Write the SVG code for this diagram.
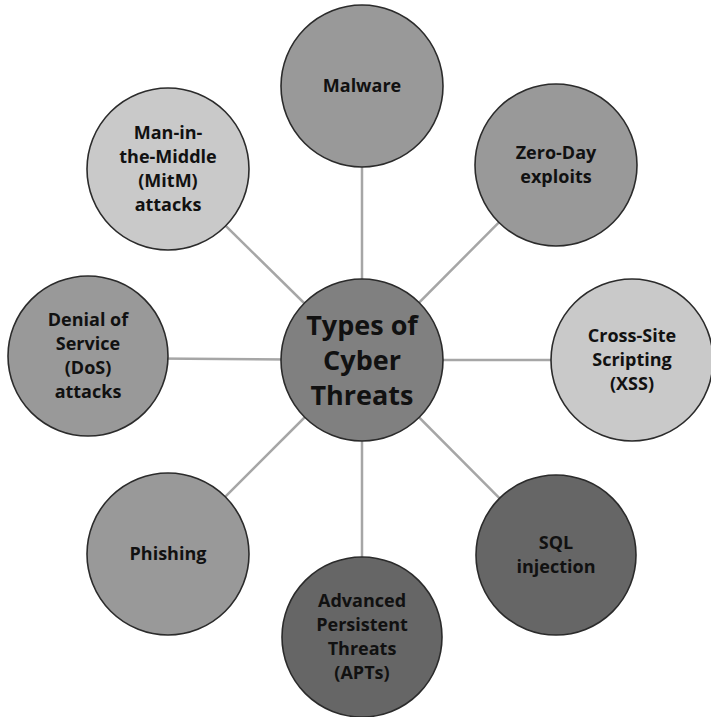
<svg xmlns="http://www.w3.org/2000/svg" width="711" height="717" viewBox="0 0 711 717">
  <style>
    .link { stroke: #a6a6a6; stroke-width: 2.5; fill: none; }
    .node { stroke: #2b2b2b; stroke-width: 1.6; }
    .lbl { font-family: "Open Sans", "Liberation Sans", sans-serif; font-weight: 700; font-size: 18px; fill: #111; text-anchor: middle; }
    .hub { font-size: 27px; }
    .mid { fill: #999999; }
    .light { fill: #c9c9c9; }
    .dark { fill: #666666; }
    .core { fill: #808080; }
  </style>
  <rect width="711" height="717" fill="#ffffff"/>

  <g id="connectors">
    <line class="link" x1="362" y1="360" x2="362" y2="86"/>
    <line class="link" x1="362" y1="360" x2="556" y2="165"/>
    <line class="link" x1="362" y1="360" x2="632" y2="360"/>
    <line class="link" x1="362" y1="360" x2="556" y2="555"/>
    <line class="link" x1="362" y1="360" x2="362" y2="637"/>
    <line class="link" x1="362" y1="360" x2="168" y2="554"/>
    <line class="link" x1="362" y1="360" x2="88" y2="358"/>
    <line class="link" x1="362" y1="360" x2="168" y2="169"/>
  </g>

  <g id="hub">
    <circle class="node core" cx="362" cy="360" r="81"/>
    <text class="lbl hub" x="362" y="335">Types of</text>
    <text class="lbl hub" x="362" y="370">Cyber</text>
    <text class="lbl hub" x="362" y="405">Threats</text>
  </g>

  <g id="malware">
    <circle class="node mid" cx="362" cy="86" r="81"/>
    <text class="lbl" x="362" y="92">Malware</text>
  </g>

  <g id="zero-day">
    <circle class="node mid" cx="556" cy="165" r="81"/>
    <text class="lbl" x="556" y="159">Zero-Day</text>
    <text class="lbl" x="556" y="183">exploits</text>
  </g>

  <g id="xss">
    <circle class="node light" cx="632" cy="360" r="81"/>
    <text class="lbl" x="632" y="342">Cross-Site</text>
    <text class="lbl" x="632" y="366">Scripting</text>
    <text class="lbl" x="632" y="390">(XSS)</text>
  </g>

  <g id="sql">
    <circle class="node dark" cx="556" cy="555" r="80"/>
    <text class="lbl" x="556" y="549">SQL</text>
    <text class="lbl" x="556" y="573">injection</text>
  </g>

  <g id="apt">
    <circle class="node dark" cx="362" cy="637" r="80"/>
    <text class="lbl" x="362" y="607">Advanced</text>
    <text class="lbl" x="362" y="631">Persistent</text>
    <text class="lbl" x="362" y="655">Threats</text>
    <text class="lbl" x="362" y="679">(APTs)</text>
  </g>

  <g id="phishing">
    <circle class="node mid" cx="168" cy="554" r="81"/>
    <text class="lbl" x="168" y="560">Phishing</text>
  </g>

  <g id="dos">
    <circle class="node mid" cx="88" cy="356" r="80"/>
    <text class="lbl" x="88" y="326">Denial of</text>
    <text class="lbl" x="88" y="350">Service</text>
    <text class="lbl" x="88" y="374">(DoS)</text>
    <text class="lbl" x="88" y="398">attacks</text>
  </g>

  <g id="mitm">
    <circle class="node light" cx="168" cy="169" r="81"/>
    <text class="lbl" x="168" y="139">Man-in-</text>
    <text class="lbl" x="168" y="163">the-Middle</text>
    <text class="lbl" x="168" y="187">(MitM)</text>
    <text class="lbl" x="168" y="211">attacks</text>
  </g>
</svg>
